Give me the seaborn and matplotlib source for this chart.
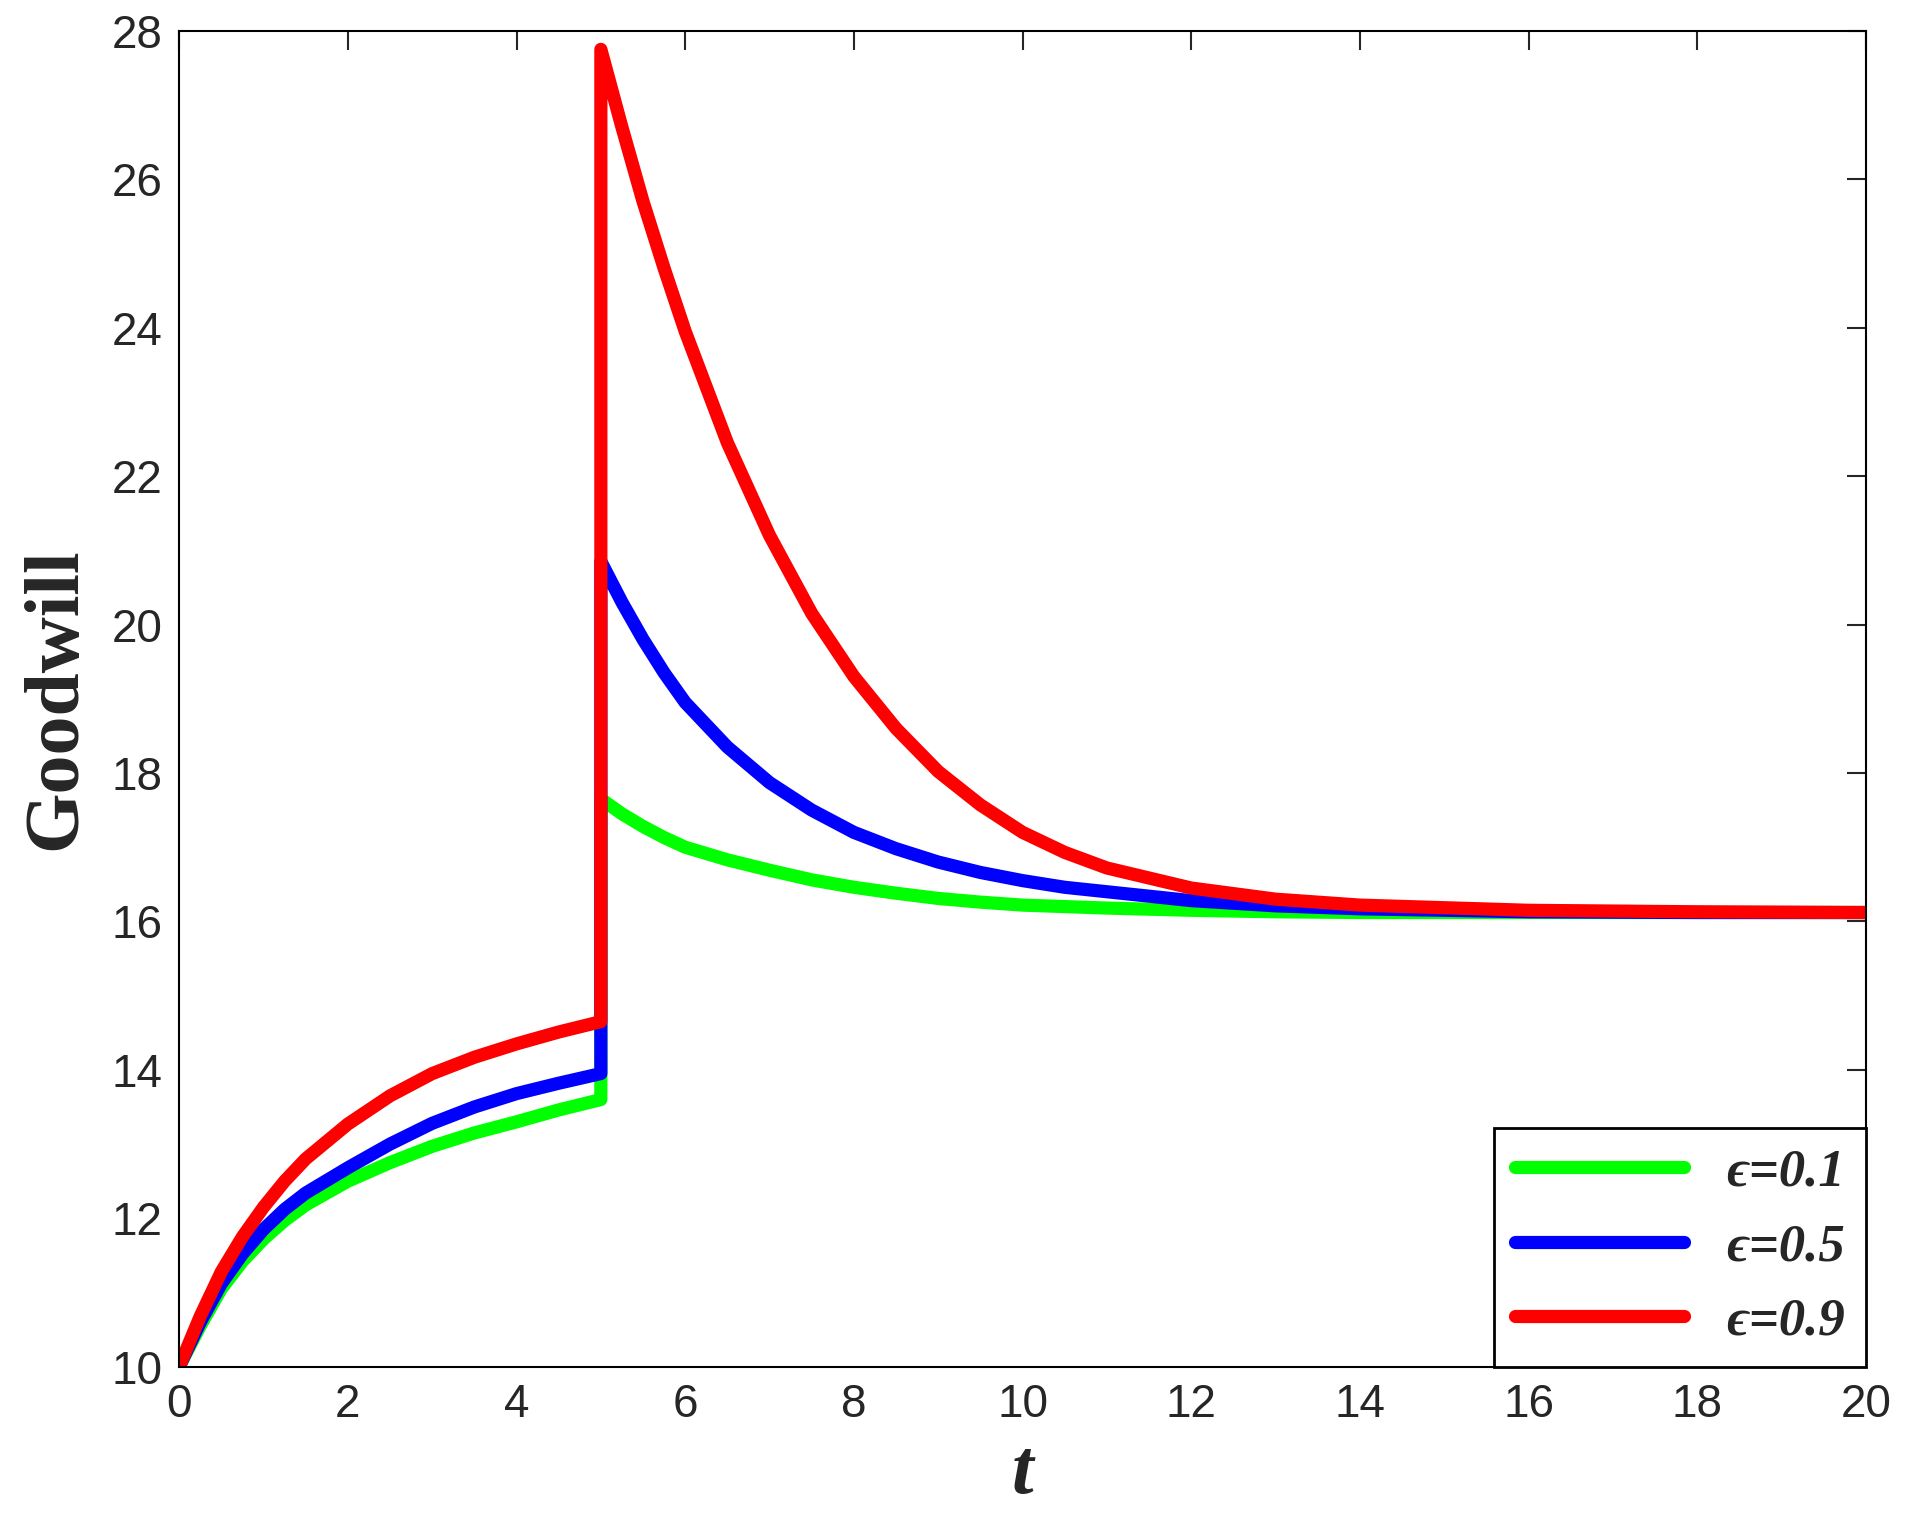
import numpy as np
import pandas as pd
import matplotlib
matplotlib.use("Agg")
import matplotlib.pyplot as plt
import seaborn as sns

sns.set_theme(style="white")
plt.rcParams['font.family'] = ['Liberation Sans', 'DejaVu Sans']

# values (t, goodwill); jump at t=5
t_pre = [0, 0.25, 0.5, 0.75, 1, 1.25, 1.5, 2, 2.5, 3, 3.5, 4, 4.5, 5]
green_pre = [10, 10.55, 11.05, 11.42, 11.72, 11.97, 12.18, 12.5, 12.75, 12.97, 13.15, 13.3, 13.46, 13.6]
blue_pre = [10, 10.6, 11.12, 11.52, 11.85, 12.12, 12.34, 12.68, 13.0, 13.28, 13.5, 13.68, 13.82, 13.95]
red_pre = [10, 10.68, 11.28, 11.75, 12.15, 12.5, 12.8, 13.27, 13.65, 13.95, 14.17, 14.35, 14.51, 14.65]

t_post = [5, 5.25, 5.5, 5.75, 6, 6.5, 7, 7.5, 8, 8.5, 9, 9.5, 10, 10.5, 11, 12, 13, 14, 16, 18, 20]
green_post = [17.65, 17.45, 17.28, 17.13, 17.0, 16.83, 16.69, 16.56, 16.46, 16.38, 16.31, 16.26,
              16.22, 16.2, 16.18, 16.15, 16.13, 16.12, 16.12, 16.12, 16.12]
blue_post = [20.85, 20.3, 19.8, 19.35, 18.95, 18.35, 17.87, 17.5, 17.2, 16.98, 16.8, 16.66,
             16.55, 16.46, 16.4, 16.28, 16.21, 16.17, 16.13, 16.12, 16.12]
red_post = [27.75, 26.7, 25.7, 24.8, 23.95, 22.45, 21.2, 20.15, 19.3, 18.6, 18.02, 17.57,
            17.2, 16.93, 16.72, 16.45, 16.3, 16.22, 16.15, 16.13, 16.12]

labels = ['ϵ=0.1', 'ϵ=0.5', 'ϵ=0.9']
colors = ['#00ff00', '#0000ff', '#ff0000']
series = [(green_pre, green_post), (blue_pre, blue_post), (red_pre, red_post)]

fig = plt.figure(figsize=(19.06, 15.4), dpi=100)
ax = fig.add_axes([0.094, 0.1125, 0.885, 0.8675])
for (pre, post), lab, col in zip(series, labels, colors):
    df = pd.DataFrame({"t": t_pre + t_post, "g": pre + post})
    sns.lineplot(data=df, x="t", y="g", estimator=None, sort=False,
                 color=col, lw=9.5, label=lab, ax=ax)

ax.set_xlim(0, 20)
ax.set_ylim(10, 28)
ax.set_xticks(range(0, 21, 2))
ax.set_yticks(range(10, 29, 2))
ax.tick_params(direction='in', length=14, width=1.5, labelsize=33,
               top=True, right=True, pad=12)
for s in ax.spines.values():
    s.set_color('black'); s.set_linewidth(1.5)
ax.set_xlabel('t', family='Liberation Serif', fontsize=56, fontweight='bold',
              fontstyle='italic', labelpad=8)
ax.set_ylabel('Goodwill', family='Liberation Serif', fontsize=56, fontweight='bold',
              labelpad=14)
leg = ax.legend(loc='lower right', fancybox=False, edgecolor='black', framealpha=1,
                borderaxespad=0, handlelength=3.2,
                prop={'family': ['Liberation Serif', 'DejaVu Serif'], 'size': 38,
                      'weight': 'bold', 'style': 'italic'})
leg.get_frame().set_linewidth(2)
fig.savefig("out.png", dpi=100)
